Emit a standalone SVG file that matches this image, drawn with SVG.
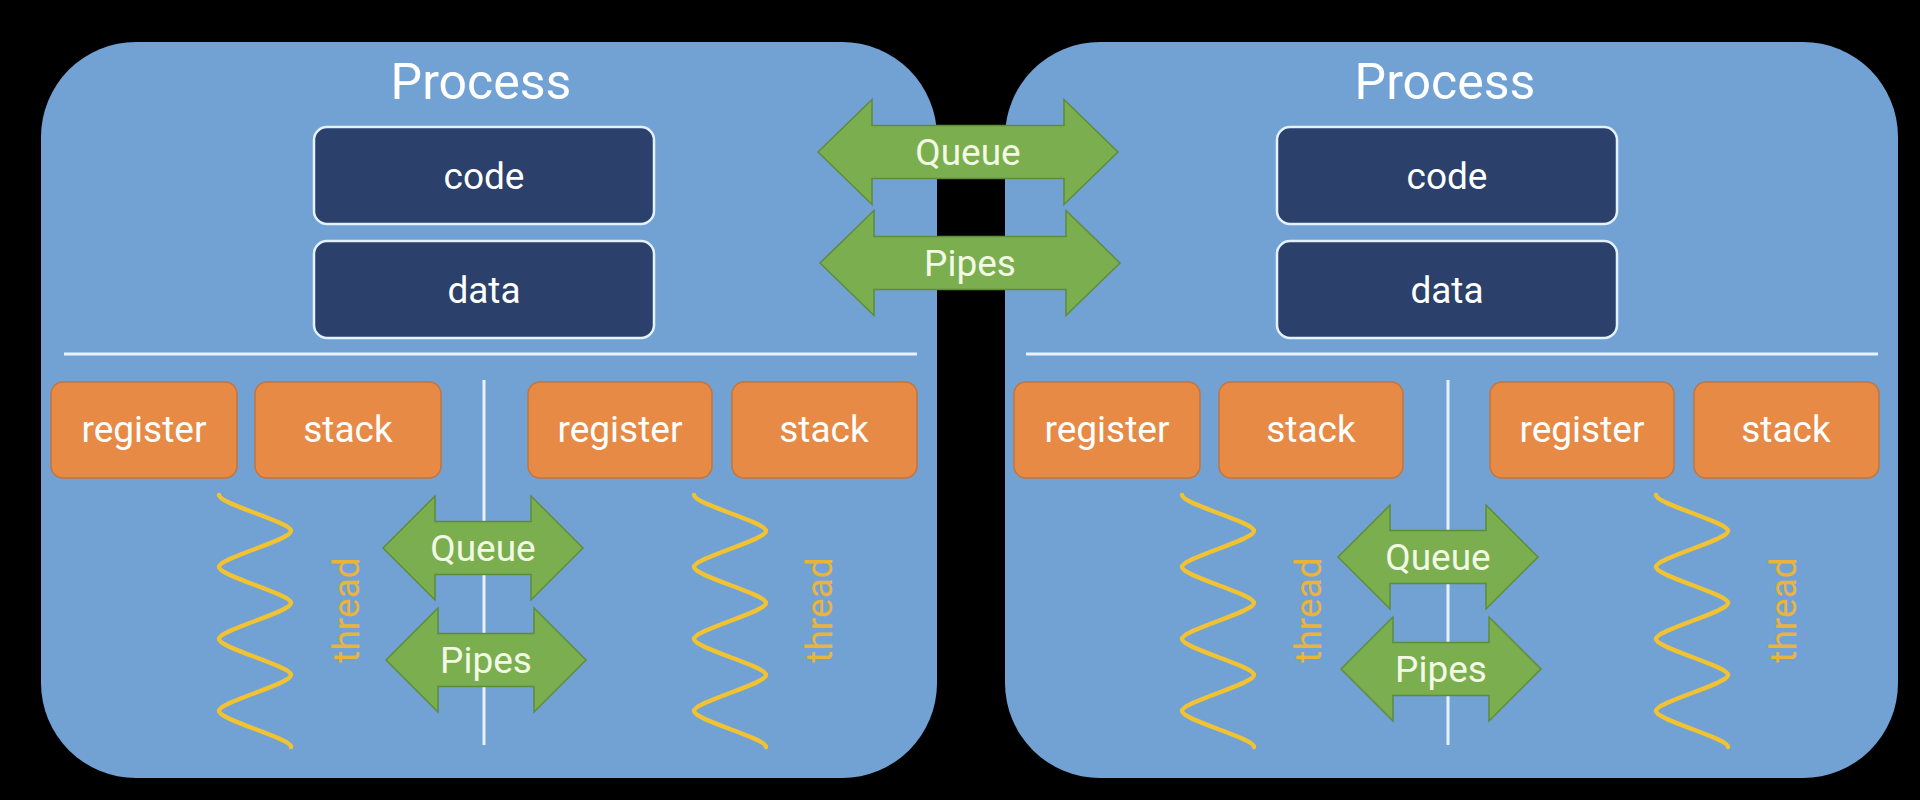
<svg xmlns="http://www.w3.org/2000/svg" xmlns:xlink="http://www.w3.org/1999/xlink" width="1920" height="800" viewBox="0 0 1920 800">
  <style>
    .proc { fill: #72a2d4; }
    .title { font-family: Roboto, "Liberation Sans", sans-serif; font-size: 50px; fill: #ffffff; text-anchor: middle; }
    .mem { fill: #2b406b; stroke: #e4f1ff; stroke-width: 2.5; }
    .reg { fill: #e78a46; stroke: #c4743d; stroke-width: 1.5; }
    .lbl { font-family: Roboto, "Liberation Sans", sans-serif; font-size: 37px; fill: #ffffff; text-anchor: middle; }
    .sep { stroke: #e6f3ff; stroke-width: 3; fill: none; }
    .wave { stroke: #f1c232; stroke-width: 4.5; fill: none; stroke-linecap: round; }
    .thr { font-family: Roboto, "Liberation Sans", sans-serif; font-size: 37px; fill: #e9b43c; text-anchor: middle; }
    .arr { fill: #7bae4f; stroke: #5e8c3b; stroke-width: 1.5; stroke-linejoin: miter; }
    .alb { font-family: Roboto, "Liberation Sans", sans-serif; font-size: 37px; fill: #f2f9e4; text-anchor: middle; }
  </style>
  <defs>
    <path id="wave" d="M0,0 C0,9 72,27 72,36 C72,45 0,63 0,72 C0,81 72,99 72,108 C72,117 0,135 0,144 C0,153 72,171 72,180 C72,189 0,207 0,216 C0,225 72,243 72,252"/>
    <path id="arrS" d="M-100,0 L-48,-52 L-48,-26.5 L48,-26.5 L48,-52 L100,0 L48,52 L48,26.5 L-48,26.5 L-48,52 Z"/>
    <path id="arrL" d="M-150,0 L-96,-52.5 L-96,-26.5 L96,-26.5 L96,-52.5 L150,0 L96,52.5 L96,26.5 L-96,26.5 L-96,52.5 Z"/>
  </defs>
  <rect x="0" y="0" width="1920" height="800" fill="#000000"/>

  <g id="process-left">
    <rect class="proc" x="41" y="42" width="896" height="736" rx="95" ry="95"/>
    <text class="title" x="481" y="99">Process</text>
    <g id="left-code"><rect class="mem" x="314" y="127" width="340" height="97" rx="13"/><text class="lbl" x="484" y="189">code</text></g>
    <g id="left-data"><rect class="mem" x="314" y="241" width="340" height="97" rx="13"/><text class="lbl" x="484" y="303">data</text></g>
    <line class="sep" x1="64" y1="354" x2="917" y2="354"/>
    <line class="sep" x1="484" y1="380" x2="484" y2="745" stroke-width="2.5"/>
    <g id="left-t1-register"><rect class="reg" x="51" y="382" width="186" height="96" rx="12"/><text class="lbl" x="144" y="442">register</text></g>
    <g id="left-t1-stack"><rect class="reg" x="255" y="382" width="186" height="96" rx="12"/><text class="lbl" x="348" y="442">stack</text></g>
    <g id="left-t2-register"><rect class="reg" x="528" y="382" width="184" height="96" rx="12"/><text class="lbl" x="620" y="442">register</text></g>
    <g id="left-t2-stack"><rect class="reg" x="732" y="382" width="185" height="96" rx="12"/><text class="lbl" x="824" y="442">stack</text></g>
    <g id="left-thread1"><use href="#wave" xlink:href="#wave" class="wave" transform="translate(219,495)"/><text class="thr" transform="translate(359,610) rotate(-90)">thread</text></g>
    <g id="left-thread2"><use href="#wave" xlink:href="#wave" class="wave" transform="translate(694,495)"/><text class="thr" transform="translate(832,610) rotate(-90)">thread</text></g>
  </g>

  <g id="process-right">
    <rect class="proc" x="1005" y="42" width="893" height="736" rx="95" ry="95"/>
    <text class="title" x="1445" y="99">Process</text>
    <g id="right-code"><rect class="mem" x="1277" y="127" width="340" height="97" rx="13"/><text class="lbl" x="1447" y="189">code</text></g>
    <g id="right-data"><rect class="mem" x="1277" y="241" width="340" height="97" rx="13"/><text class="lbl" x="1447" y="303">data</text></g>
    <line class="sep" x1="1026" y1="354" x2="1878" y2="354"/>
    <line class="sep" x1="1448" y1="380" x2="1448" y2="745" stroke-width="2.5"/>
    <g id="right-t1-register"><rect class="reg" x="1014" y="382" width="186" height="96" rx="12"/><text class="lbl" x="1107" y="442">register</text></g>
    <g id="right-t1-stack"><rect class="reg" x="1219" y="382" width="184" height="96" rx="12"/><text class="lbl" x="1311" y="442">stack</text></g>
    <g id="right-t2-register"><rect class="reg" x="1490" y="382" width="184" height="96" rx="12"/><text class="lbl" x="1582" y="442">register</text></g>
    <g id="right-t2-stack"><rect class="reg" x="1694" y="382" width="185" height="96" rx="12"/><text class="lbl" x="1786" y="442">stack</text></g>
    <g id="right-thread1"><use href="#wave" xlink:href="#wave" class="wave" transform="translate(1182,495)"/><text class="thr" transform="translate(1321,610) rotate(-90)">thread</text></g>
    <g id="right-thread2"><use href="#wave" xlink:href="#wave" class="wave" transform="translate(1656,495)"/><text class="thr" transform="translate(1796,610) rotate(-90)">thread</text></g>
  </g>

  <g id="connectors">
    <g id="ipc-queue"><use href="#arrL" xlink:href="#arrL" class="arr" transform="translate(968,152)"/><text class="alb" x="968" y="165">Queue</text></g>
    <g id="ipc-pipes"><use href="#arrL" xlink:href="#arrL" class="arr" transform="translate(970,263)"/><text class="alb" x="970" y="276">Pipes</text></g>
    <g id="left-queue"><use href="#arrS" xlink:href="#arrS" class="arr" transform="translate(483,548)"/><text class="alb" x="483" y="561">Queue</text></g>
    <g id="left-pipes"><use href="#arrS" xlink:href="#arrS" class="arr" transform="translate(486,660)"/><text class="alb" x="486" y="673">Pipes</text></g>
    <g id="right-queue"><use href="#arrS" xlink:href="#arrS" class="arr" transform="translate(1438,557)"/><text class="alb" x="1438" y="570">Queue</text></g>
    <g id="right-pipes"><use href="#arrS" xlink:href="#arrS" class="arr" transform="translate(1441,669)"/><text class="alb" x="1441" y="682">Pipes</text></g>
  </g>
</svg>
